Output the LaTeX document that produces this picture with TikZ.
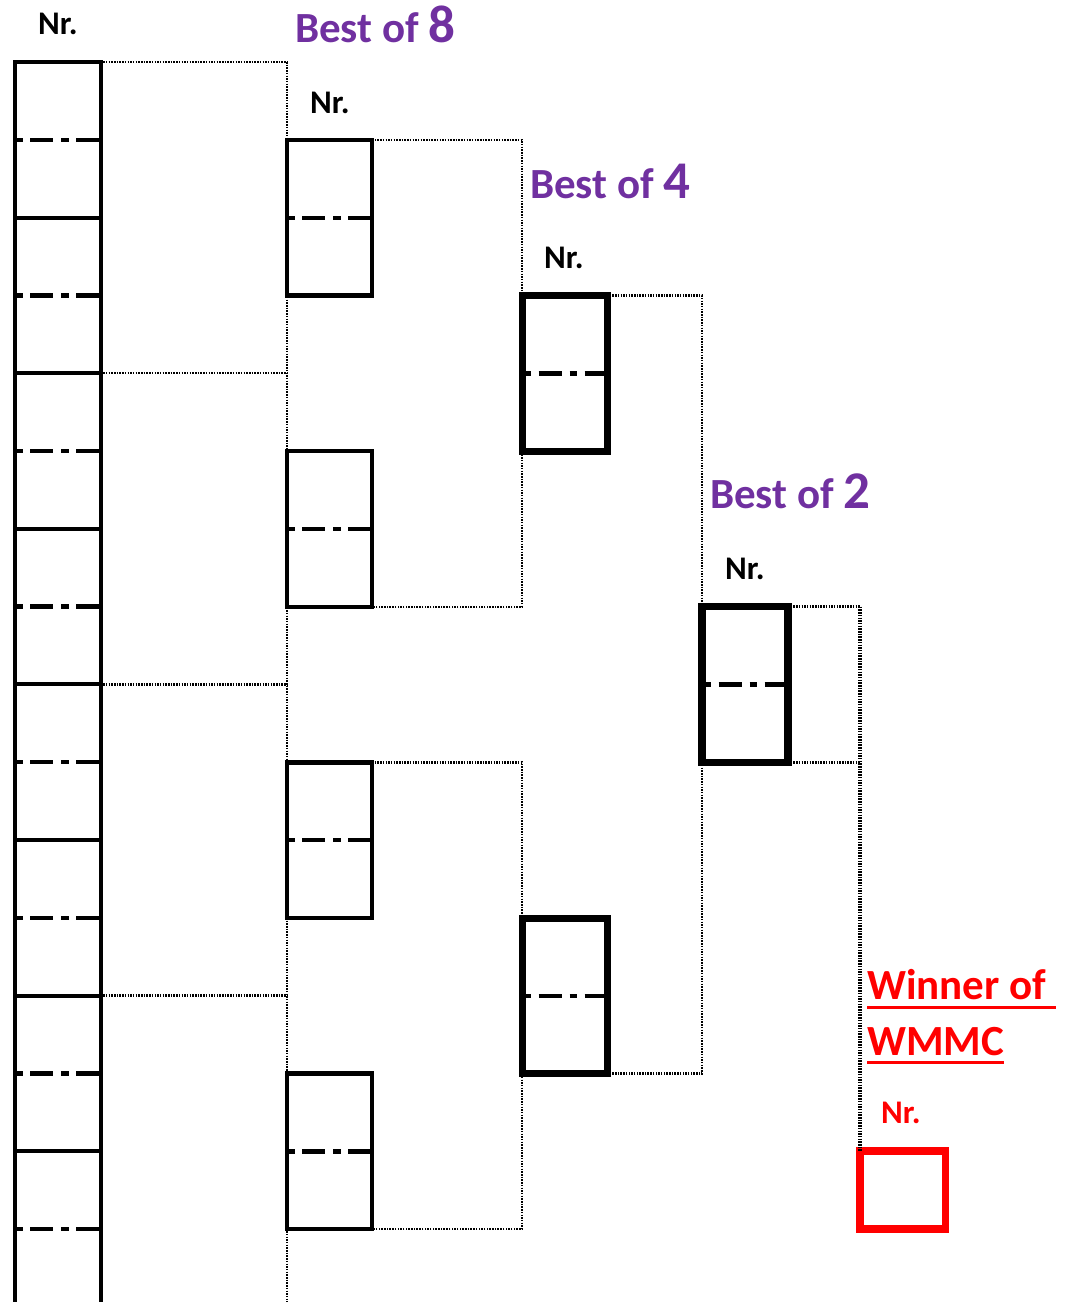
\documentclass[tikz,border=0pt]{standalone}
\usepackage{fontspec}
\setmainfont{Carlito}
\definecolor{bpurple}{HTML}{7030A0}
\definecolor{wred}{HTML}{FF0000}
\begin{document}
\begin{tikzpicture}[x=1pt,y=-1pt,
  box/.style={draw, rectangle, inner sep=0pt, outer sep=0pt, line width=#1,
    minimum width=85.5pt, minimum height=155.6pt},
  midline/.style={line width=4.5pt, dash pattern=on 23pt off 8pt on 7.5pt off 7.5pt, dash phase=33pt},
  dotline/.style={line width=2.5pt, dash pattern=on 1.5pt off 1.2pt},
  nrtext/.style={anchor=base west, inner sep=0pt, font=\fontsize{33}{38}\selectfont\bfseries},
  besttext/.style={anchor=base west, inner sep=0pt, text=bpurple, font=\fontsize{43}{50}\selectfont\bfseries},
  wintext/.style={anchor=base west, inner sep=0pt, text=wred, font=\fontsize{43}{48}\selectfont\bfseries}
]
\useasboundingbox (0,0) rectangle (1067,1302);
\clip (0,0) rectangle (1067,1302);
% left column
\foreach \i in {0,...,7} {
  \node[box=4pt] (L\i) at (57.75,{139.8+155.6*\i}) {};
  \draw[midline] ([xshift=2pt]L\i.west) -- ([xshift=-2pt]L\i.east);
}
% best of 8
\foreach \i in {0,...,3} {
  \node[box=4.5pt, minimum width=85pt] (B\i) at (329.5,{217.8+311.2*\i}) {};
  \draw[midline] ([xshift=2.2pt]B\i.west) -- ([xshift=-2.2pt]B\i.east);
}
% best of 4
\foreach \i in {0,1} {
  \node[box=7pt, minimum width=85pt] (C\i) at (564.5,{373.4+622.4*\i}) {};
  \draw[midline] ([xshift=3.5pt]C\i.west) -- ([xshift=-3.5pt]C\i.east);
}
% best of 2
\node[box=7.5pt, minimum width=86pt] (D) at (745,684.5) {};
\draw[midline] ([xshift=3.7pt]D.west) -- ([xshift=-3.7pt]D.east);
% winner
\node[box=7.5pt, draw=wred, minimum width=85.5pt, minimum height=78pt] (W) at (902.75,1190) {};
\coordinate (bot) at (287,1320);
% dotted connectors
\foreach \i in {0,2,4,6} {
  \draw[dotline] (L\i.north east) -- (L\i.north east -| B0.west);
}
\draw[dotline] (B0.west |- L0.north) -- (bot);
\draw[dotline] (B0.north east) -- (B0.north east -| C0.west) -- (B1.south east -| C0.west) -- (B1.south east);
\draw[dotline] (B2.north east) -- (B2.north east -| C1.west) -- (B3.south east -| C1.west) -- (B3.south east);
\draw[dotline] (C0.north east) -- (C0.north east -| D.west) -- (C1.south east -| D.west) -- (C1.south east);
\draw[dotline] (D.north east) -- (D.north east -| W.west);
\draw[dotline] (D.south east) -- (D.south east -| W.west);
\draw[dotline, line width=3.5pt] (D.north east -| W.west) -- (W.north west);
% texts
\node[nrtext] (n1) at (38,34) {Nr.};
\node[nrtext] (n2) at (310,113) {Nr.};
\node[nrtext] (n3) at (544,268) {Nr.};
\node[nrtext] (n4) at (725,579) {Nr.};
\node[nrtext, text=wred] (n5) at (881,1123) {Nr.};
\node[besttext] (t8) at (295,42) {Best of {\fontsize{53}{60}\selectfont 8}};
\node[besttext] (t4) at (530,198) {Best of {\fontsize{53}{60}\selectfont 4}};
\node[besttext] (t2) at (710,508) {Best of {\fontsize{53}{60}\selectfont 2}};
\node[wintext] (w1) at (867,999) {Winner of\ \null};
\node[wintext] (w2) at (867,1055) {WMMC};
\draw[wred, line width=3pt] ([yshift=-8pt]w1.base west) -- ([yshift=-8pt]w1.base east);
\draw[wred, line width=3pt] ([yshift=-7pt]w2.base west) -- ([yshift=-7pt]w2.base east);
\end{tikzpicture}
\end{document}
